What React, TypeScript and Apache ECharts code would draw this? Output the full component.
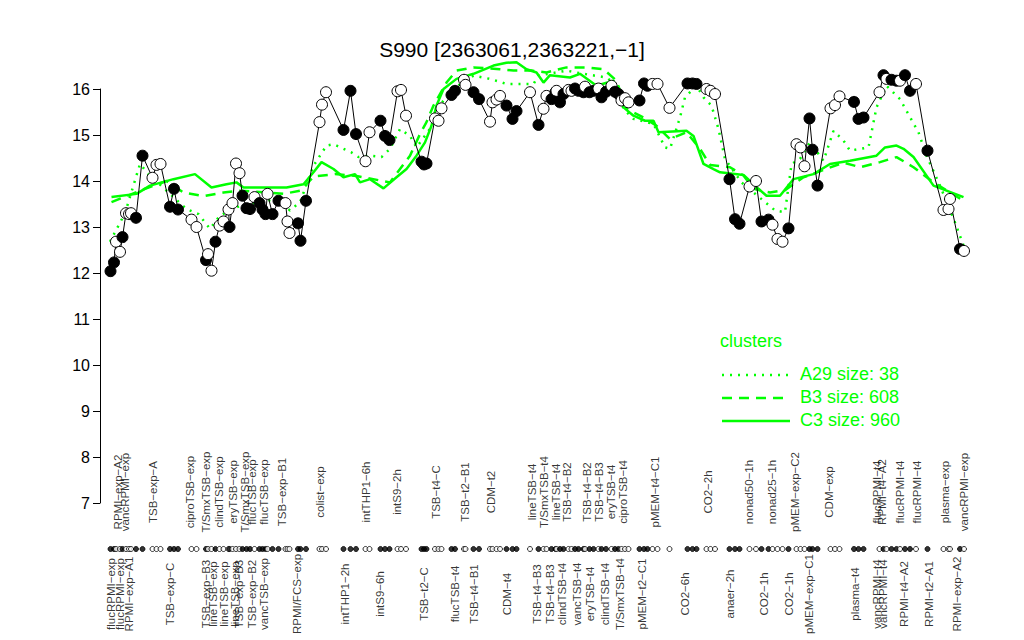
import React, { useEffect, useRef } from "react";
import * as echarts from "echarts";

const FONT = "'Liberation Sans', Arial, Helvetica, sans-serif";
const GREEN = "#00ff00";
const M = "\u2212";

const TITLE = `S990 [2363061,2363221,${M}1]`;

// sample positions along the condition axis, expression values and marker fill (1 = filled)
const sampleX = [2.1,2.8,3.2,4.0,4.5,5.2,5.8,6.2,7.2,8.5,10.5,11.3,12.1,14.0,14.8,15.6,18.3,19.3,21.2,21.6,22.3,23.1,23.9,24.7,25.7,25.9,26.5,27.2,27.9,28.5,29.3,30.0,30.9,31.9,32.5,33.1,33.5,34.5,35.7,37.1,37.5,37.9,39.6,40.1,41.2,43.9,44.4,45.2,48.7,50.1,51.2,53.1,53.9,56.1,57.0,57.9,59.5,60.2,61.2,64.3,64.8,65.3,67.0,67.7,68.3,70.3,71.0,72.8,73.1,74.7,75.8,78.0,78.5,79.3,80.0,81.3,82.5,83.3,86.0,87.7,88.7,89.3,90.3,91.1,91.3,92.0,92.7,93.7,94.3,95.0,95.7,96.7,97.0,97.9,98.7,99.7,100.3,101.2,102.3,103.0,103.7,104.3,105.0,105.7,107.9,108.8,109.5,110.5,111.5,113.9,117.5,118.5,119.3,121.3,122.1,123.0,125.9,127.0,127.9,129.9,131.2,132.3,133.7,134.5,135.5,136.5,137.7,139.3,140.1,140.9,141.9,142.5,143.5,146.1,147.0,147.9,150.8,151.7,152.7,155.9,156.7,157.3,158.3,159.3,160.0,161.0,162.0,163.2,165.5,168.7,169.7,170.0,172.0,172.8];
const sampleY = [12.04,12.23,12.68,12.46,12.78,13.30,13.28,13.30,13.20,14.55,14.07,14.35,14.37,13.44,13.83,13.38,13.16,13.00,12.28,12.41,12.05,12.68,13.03,13.12,13.38,13.00,13.52,14.38,14.17,13.68,13.41,13.39,13.65,13.52,13.38,13.28,13.72,13.28,13.57,13.52,13.12,12.87,13.08,12.70,13.57,15.28,15.66,15.93,15.11,15.96,15.02,14.43,15.06,15.31,14.98,14.89,15.95,15.98,15.42,14.42,14.36,14.38,15.36,15.31,15.58,15.87,15.96,16.20,16.09,15.93,15.78,15.29,15.71,15.77,15.85,15.64,15.35,15.52,15.93,15.22,15.57,15.85,15.78,15.93,15.96,15.71,15.89,15.98,15.96,16.01,15.96,15.93,16.05,15.93,15.96,16.01,15.82,15.94,16.07,15.94,15.89,15.75,15.80,15.71,15.75,16.12,16.07,16.11,16.11,15.59,16.12,16.12,16.11,16.00,15.96,15.89,14.04,13.17,13.07,13.88,14.00,13.12,13.16,13.05,12.74,12.68,12.97,14.80,14.73,14.32,15.36,14.68,13.90,15.58,15.65,15.84,15.72,15.35,15.38,15.93,16.30,16.22,16.20,16.18,16.18,16.30,15.96,16.11,14.66,13.37,13.39,13.61,12.52,12.48];
const sampleFilled = [1,1,0,0,1,0,0,0,1,1, 0,0,0,1,1,1,0,0,1,0, 0,1,0,0,0,1,0,0,0,1, 1,1,0,1,1,1,0,1,1,0, 0,0,1,1,1,0,0,0,1,1, 1,0,0,1,1,1,0,0,0,1, 1,1,0,0,0,1,1,0,0,1, 1,0,0,0,0,1,1,1,0,1, 0,0,1,1,0,1,1,0,0,1, 1,1,0,1,1,0,1,1,0,1, 1,0,0,0,1,1,1,0,0,0, 1,1,1,0,0,0,1,1,1,0, 0,1,1,0,0,0,1,0,0,0, 1,1,1,0,0,0,1,1,1,0, 1,0,1,1,0,1,1,0,1,0, 0,0,1,0];

// cluster profiles
const c3X = [2.3,7.3,10,14.7,19,22.3,25.3,27.3,28.7,33.3,37.3,40.7,42.7,44.3,46.7,48.7,51,52,54,56.7,59.3,61.3,63.3,65,66.3,67.3,68.7,71.3,74.7,78.7,81.3,83.3,85.3,87.3,88.7,90,94,96,99.3,102.7,104.7,106.7,109,110.7,111.7,117.3,118.7,120.7,122.7,124,128.7,131.7,133.3,136,138.7,142.7,146,150,155.3,157,159.3,160.7,162.7,166.7,172.7];
const c3Y = [13.65,13.72,13.9,14.04,14.15,13.86,13.93,13.97,13.86,13.86,13.86,13.93,14.19,14.41,14.26,14.08,14.15,13.97,14.04,13.84,14.08,14.26,14.55,14.84,15.2,15.64,16.0,16.22,16.33,16.51,16.57,16.58,16.43,16.36,16.14,16.3,16.25,16.33,16.07,16.18,15.6,15.42,15.31,15.31,15.06,15.09,14.98,14.37,14.26,14.19,14.13,13.83,13.68,13.68,14.04,14.15,14.37,14.44,14.55,14.73,14.77,14.7,14.52,13.9,13.65];
const b3X = [2.3,8,13.3,16.7,20.7,24.7,28,36.7,40,42.8,47,51.3,58,62,64,65.3,66.7,69.3,71.3,74.7,80,82.7,86.3,89.3,93.3,97.3,100.7,103.3,105.3,108.7,111.3,114,117.3,120,122,126,128.7,130.7,134,137,140.7,148.7,152,156,159.3,162.7,166.7,172.7];
const b3Y = [13.54,13.79,14.0,13.75,13.67,13.75,13.79,13.72,13.79,14.1,14.15,14.11,13.97,14.55,15.02,15.28,15.64,16.14,16.4,16.47,16.43,16.4,16.4,16.36,16.47,16.47,16.43,16.18,15.57,15.38,15.2,14.91,15.06,14.7,14.35,14.3,14.12,13.83,13.75,13.8,14.08,14.4,14.3,14.41,14.52,14.3,13.97,13.57];
const a29X = [2,5,8,9.7,17.3,19.7,22,24,28,35.3,38,40,42.7,45.3,46.7,48.7,50.3,51.7,54,56.3,58,60,62,63.3,66.7,68,70,74.7,78,81.3,86.7,87.7,93.3,96.7,101.3,103,104.7,106.7,110.7,113,114,116,117,119.3,120.7,122.3,123.7,125,128.3,132.7,135,137,138.3,140,142,144.7,146.7,148.7,150,153.7,155.3,157.3,160,163.7,165.3,168,171,172.7];
const a29Y = [12.68,13.3,14.37,14.15,13.39,13.28,12.96,13.25,13.46,13.61,13.36,13.54,14.33,14.77,14.8,14.7,14.62,14.52,14.55,14.52,14.7,15.13,14.98,14.73,15.24,15.64,15.96,16.29,16.22,16.11,16.11,16.29,16.4,16.33,16.25,16.11,15.57,15.35,15.24,14.73,14.7,15.38,15.82,16.07,15.82,15.64,15.13,14.48,13.97,13.57,13.36,13.32,14.37,14.48,14.84,14.44,15.09,14.88,14.66,14.73,15.6,16.07,15.78,15.06,14.55,13.9,13.1,12.6];

// condition labels above and below the marker row
const topLabelX = [3.6,5.0,10.6,18.0,21.2,23.7,26.5,29.0,30.4,32.7,36.4,44.0,53.1,59.4,67.2,73.0,78.2,86.3,88.8,91.2,93.4,97.4,99.8,102.2,104.6,111.0,121.6,129.7,134.4,139.0,145.7,155.4,156.3,160.0,163.3,169.0,172.7];
const topLabelText = ["RPMI-exp-A2","vancRPMI-exp","TSB-exp-A","ciproTSB-exp","T/SmxTSB-exp","clindTSB-exp","eryTSB-exp","T/SmxTSB-exp","flucTSB-exp","flucTSB-exp","TSB-exp-B1","colist-exp","intTHP1-6h","intS9-2h","TSB-t4-C","TSB-t2-B1","CDM-t2","lineTSB-t4","T/SmxTSB-t4","lineTSB-t4","TSB-t4-B2","TSB-t4-B2","TSB-t4-B3","eryTSB-t4","ciproTSB-t4","pMEM-t4-C1","CO2-2h","nonad50-1h","nonad25-1h","pMEM-exp-C2","CDM-exp","flucRPMI-t4","RPMI-t4-A2","flucRPMI-t4","flucRPMI-t4","plasma-exp","vancRPMI-exp"];
const bottomLabelX = [2.1,3.9,5.7,13.9,21.2,22.5,24.8,27.0,27.8,30.3,32.7,39.3,49.0,56.0,64.7,71.0,74.7,81.3,87.3,90.0,92.3,95.3,98.0,101.0,104.0,108.3,117.0,126.0,132.7,137.7,141.7,151.0,155.3,156.5,160.7,165.7,171.3];
const bottomLabelText = ["flucRPMI-exp","flucRPMI-exp","RPMI-exp-A1","TSB-exp-C","TSB-exp-B3","lineTSB-exp","lineTSB-exp","lineTSB-exp","TSB-exp-B3","TSB-exp-B2","vancTSB-exp","RPMI/FCS-exp","intTHP1-2h","intS9-6h","TSB-t2-C","flucTSB-t4","TSB-t4-B1","CDM-t4","TSB-t4-B3","TSB-t4-B3","clindTSB-t4","vancTSB-t4","eryTSB-t4","clindTSB-t4","T/SmxTSB-t4","pMEM-t2-C1","CO2-6h","anaer-2h","CO2-1h","CO2-1h","pMEM-exp-C1","plasma-t4","vancRPMI-t4","vancRPMI-t4","RPMI-t4-A2","RPMI-t2-A1","RPMI-exp-A2"];

const legendNames = ["A29 size: 38", "B3 size: 608", "C3 size: 960"];

// layout constants for the lower strip (pixels below its top edge)
const ROW_MARKS = 109;
const ROW_TOP_LABELS = 52;
const ROW_BOTTOM_LABELS = 154;

const DOTTED = [2, 6];
const DASHED = [10, 7];

const fix = (s: string) => s.replace(/-/g, M);

export default function App() {
  const ref = useRef<HTMLDivElement>(null);
  useEffect(() => {
    if (!ref.current) return;
    const chart = echarts.init(ref.current, undefined, { renderer: "svg" });
    const pair = (xs: number[], ys: number[]) => xs.map((x, i) => [x, ys[i]]);
    const mainData = sampleX.map((x, i) => ({
      value: [x, sampleY[i]],
      itemStyle: { color: sampleFilled[i] ? "#000" : "#fff" },
    }));
    const rowData = sampleX.map((x, i) => ({
      value: [x, ROW_MARKS],
      itemStyle: { color: sampleFilled[i] ? "#000" : "#fff" },
    }));
    const labelSeries = (xs: number[], texts: string[], row: number) => ({
      type: "scatter",
      xAxisIndex: 1,
      yAxisIndex: 1,
      symbolSize: 1,
      itemStyle: { color: "rgba(0,0,0,0)" },
      silent: true,
      data: xs.map((x, i) => ({ value: [x, row], name: fix(texts[i]) })),
      label: {
        show: true,
        position: "inside",
        rotate: 90,
        align: "center",
        verticalAlign: "middle",
        formatter: "{b}",
        fontSize: 11.5,
        fontFamily: FONT,
        color: "#000",
      },
      z: 5,
    });
    const clusterLine = (xs: number[], ys: number[], dash: any, name: string) => ({
      type: "line",
      name,
      xAxisIndex: 0,
      yAxisIndex: 0,
      data: pair(xs, ys),
      symbol: "none",
      showSymbol: false,
      clip: false,
      silent: true,
      lineStyle: { color: GREEN, width: 2.5, type: dash },
      z: 2,
    });
    const legendY = [375, 398, 421];
    const legendDash: any[] = [DOTTED, DASHED, "solid"];
    const graphic: any[] = [
      {
        type: "text",
        left: 720,
        top: 332,
        style: { text: "clusters", fill: GREEN, font: `18px ${FONT}` },
      },
    ];
    legendNames.forEach((n, i) => {
      graphic.push({
        type: "line",
        shape: { x1: 722, y1: legendY[i], x2: 790, y2: legendY[i] },
        style: {
          stroke: GREEN,
          lineWidth: 2.5,
          lineDash: legendDash[i] === "solid" ? null : legendDash[i],
        },
      });
      graphic.push({
        type: "text",
        left: 800,
        top: legendY[i] - 10,
        style: { text: n, fill: GREEN, font: `18px ${FONT}` },
      });
    });

    chart.setOption({
      animation: false,
      backgroundColor: "#fff",
      title: {
        text: TITLE,
        left: "center",
        top: 34,
        textStyle: { fontSize: 21, fontWeight: "normal", color: "#000", fontFamily: FONT },
      },
      grid: [
        { left: 100, top: 89, width: 880, height: 414 },
        { left: 100, top: 440, width: 880, height: 200 },
      ],
      xAxis: [
        { gridIndex: 0, type: "value", min: 0, max: 176, show: false },
        { gridIndex: 1, type: "value", min: 0, max: 176, show: false },
      ],
      yAxis: [
        {
          gridIndex: 0,
          type: "value",
          min: 7,
          max: 16,
          interval: 1,
          axisLine: { show: true, lineStyle: { color: "#000", width: 1 } },
          axisTick: { show: true, length: 7, lineStyle: { color: "#000", width: 1 } },
          axisLabel: { color: "#000", fontSize: 16, margin: 10, fontFamily: FONT },
          splitLine: { show: false },
        },
        { gridIndex: 1, type: "value", min: 0, max: 200, inverse: true, show: false },
      ],
      graphic,
      series: [
        clusterLine(a29X, a29Y, DOTTED, "A29"),
        clusterLine(b3X, b3Y, DASHED, "B3"),
        clusterLine(c3X, c3Y, "solid", "C3"),
        {
          type: "line",
          xAxisIndex: 0,
          yAxisIndex: 0,
          data: mainData,
          symbol: "circle",
          symbolSize: 11,
          showSymbol: true,
          clip: false,
          silent: true,
          lineStyle: { color: "#000", width: 1 },
          itemStyle: { borderColor: "#000", borderWidth: 1 },
          z: 3,
        },
        {
          type: "scatter",
          xAxisIndex: 1,
          yAxisIndex: 1,
          data: rowData,
          symbol: "circle",
          symbolSize: 5,
          silent: true,
          itemStyle: { borderColor: "#000", borderWidth: 1 },
          z: 3,
        },
        labelSeries(topLabelX, topLabelText, ROW_TOP_LABELS),
        labelSeries(bottomLabelX, bottomLabelText, ROW_BOTTOM_LABELS),
      ],
    });
    return () => chart.dispose();
  }, []);
  return (
    <div
      ref={ref}
      style={{ position: "fixed", left: 0, top: 0, width: 1024, height: 640, background: "#fff" }}
    />
  );
}
